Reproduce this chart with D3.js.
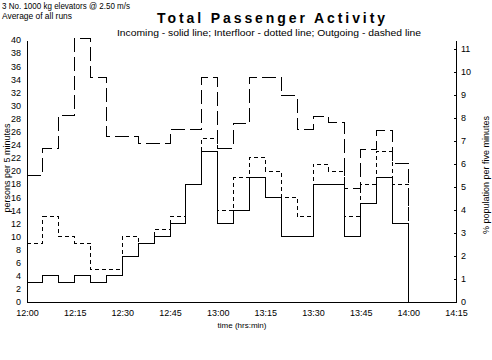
<!DOCTYPE html>
<html><head><meta charset="utf-8">
<script src="https://cdn.jsdelivr.net/npm/d3@7"></script>
<style>body{margin:0;background:#fff}svg{display:block}text{font-family:Arial,"Liberation Sans",sans-serif;fill:#000}</style>
</head><body>
<svg id="chart" width="492" height="360"></svg>
<script>
// interval start minutes after 12:00 (5-minute periods)
const periodStarts = [0,5,10,15,20,25,30,35,40,45,50,55,60,65,70,75,80,85,90,95,100,105,110,115,120,125,130];
const incoming   = [3,4,3,4,3,4,7,9,10,12,18,23,12,14,19,16,10,10,18,18,10,15,19,12,0,0,0];
const interfloor = [9,13,10,9,5,5,10,9,11,13,18,25,14,19,22,20,16,13,21,20,13,18,23,18,0,0,0];
const outgoing   = [19.3,23.4,28.4,40.2,34.3,25.2,25.2,24.2,24.2,26.3,26.3,34.3,23.5,27.3,34.3,34.3,31.5,26.3,28.3,27.4,17.4,23.3,26.2,21.2,0,0,0];
const xTickMinutes = [0,15,30,45,60,75,90,105,120,135];
const xTickLabels  = ["12:00","12:15","12:30","12:45","13:00","13:15","13:30","13:45","14:00","14:15"];
const leftTicks  = [0,2,4,6,8,10,12,14,16,18,20,22,24,26,28,30,32,34,36,38,40];
const rightTicks = [0,1,2,3,4,5,6,7,8,9,10,11];
const populationPct = 100/351.2; // persons -> % population

const svg = d3.select("#chart");
const L = 27, R = 456, T = 40, B = 302;
const x = d3.scaleLinear().domain([0,135]).range([L,R]);
const y = d3.scaleLinear().domain([0,40]).range([B,T]);
const y2 = d3.scaleLinear().domain([0,40*populationPct]).range([B,T]);

// axes
const gL = svg.append("g").attr("transform",`translate(${L},0)`)
  .call(d3.axisLeft(y).tickValues(leftTicks).tickSize(0).tickPadding(6).tickFormat(d3.format("d")));
const gR = svg.append("g").attr("transform",`translate(${R},0)`)
  .call(d3.axisRight(y2).tickValues(rightTicks).tickSizeInner(-2).tickSizeOuter(0).tickPadding(5).tickFormat(d3.format("d")));
const gB = svg.append("g").attr("transform",`translate(0,${B})`)
  .call(d3.axisBottom(x).tickValues(xTickMinutes).tickSize(0).tickPadding(6).tickFormat((d,i)=>xTickLabels[i]));
[gL,gR,gB].forEach(g=>{
  g.selectAll("path.domain").attr("stroke","#000").attr("shape-rendering","crispEdges");
  g.selectAll("line").attr("stroke","#000").attr("shape-rendering","crispEdges");
  g.selectAll("text").attr("font-size",9).attr("font-family","Arial, 'Liberation Sans', sans-serif");
});
gB.selectAll("text").attr("dy","0.9em");

// series
function pts(vals){ const p = periodStarts.map((t,i)=>[t,vals[i]]); p.push([135, vals[vals.length-1]]); return p; }
const line = d3.line().x(d=>x(d[0])).y(d=>y(d[1])).curve(d3.curveStepAfter);
const series = [
  {vals: outgoing, dash: "14,5"},
  {vals: interfloor, dash: "4,3"},
  {vals: incoming, dash: null}
];
series.forEach(s=>{
  svg.append("path").datum(pts(s.vals)).attr("d",line)
    .attr("fill","none").attr("stroke","#000").attr("stroke-width",1)
    .attr("stroke-dasharray",s.dash).attr("shape-rendering","crispEdges");
});

// texts
svg.append("text").attr("x",2).attr("y",9).attr("font-size",9).attr("textLength",128).attr("lengthAdjust","spacingAndGlyphs").text("3 No. 1000 kg elevators @ 2.50 m/s");
svg.append("text").attr("x",2).attr("y",19).attr("font-size",9).attr("textLength",70).attr("lengthAdjust","spacingAndGlyphs").text("Average of all runs");
svg.append("text").attr("x",157).attr("y",23).attr("font-size",14).attr("font-weight","bold").attr("textLength",228).attr("lengthAdjust","spacing").text("Total Passenger Activity");
svg.append("text").attr("x",117).attr("y",36).attr("font-size",9).attr("textLength",304).attr("lengthAdjust","spacingAndGlyphs").text("Incoming - solid line;  Interfloor - dotted line;  Outgoing - dashed line");
svg.append("text").attr("x",242).attr("y",328).attr("font-size",8).attr("text-anchor","middle").text("time (hrs:min)");
svg.append("text").attr("transform","translate(10,168) rotate(-90)").attr("font-size",9).attr("text-anchor","middle").text("persons per 5 minutes");
svg.append("text").attr("transform","translate(489,175) rotate(-90)").attr("font-size",9).attr("text-anchor","middle").text("% population per five minutes");
</script>
</body></html>
